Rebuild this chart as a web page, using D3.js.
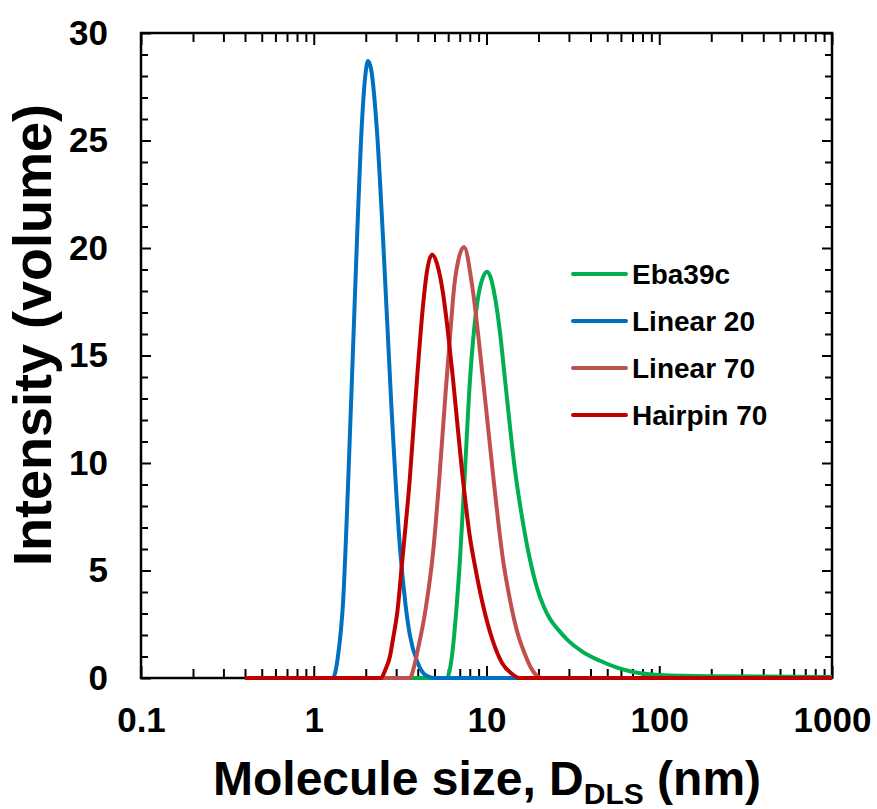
<!DOCTYPE html>
<html>
<head>
<meta charset="utf-8">
<script src="https://cdn.jsdelivr.net/npm/d3@7"></script>
<style>
  body { margin: 0; background: #fff; }
  text { font-family: "Liberation Sans", Arial, sans-serif; font-weight: bold; }
</style>
</head>
<body>
<div id="vis"></div>
<script>
// datos (tamaño en nm, intensidad en volumen)
const eba39cSize = [0.4, 5.9, 6.1, 6.35, 6.65, 7.02, 7.5, 8.03, 8.5, 8.94, 9.5, 10.07, 10.6, 11.2, 12.0, 12.79, 14.6, 16.2, 17.86, 19.6, 21.5, 23.3, 26, 29.2, 36.2, 45.4, 57, 70.5, 100, 200, 1000];
const eba39cInt  = [0, 0, 0.3, 1.2, 2.9, 5.5, 9.6, 13.9, 16.3, 17.7, 18.6, 18.9, 18.6, 17.7, 16.0, 13.9, 9.7, 7.3, 5.5, 4.2, 3.3, 2.75, 2.25, 1.8, 1.2, 0.8, 0.48, 0.28, 0.14, 0.08, 0.05];

const linear20Size = [0.4, 1.29, 1.38, 1.48, 1.58, 1.70, 1.78, 1.90, 2.0, 2.06, 2.15, 2.32, 2.52, 2.8, 3.16, 3.4, 3.6, 4.0, 4.5, 5.0, 1000];
const linear20Int  = [0, 0, 1.0, 3.6, 9.0, 16.0, 20.4, 25.8, 28.2, 28.7, 28.3, 25.5, 20.4, 13.0, 6.0, 3.4, 2.0, 0.7, 0.1, 0, 0];

const linear70Size = [0.4, 3.61, 3.8, 4.0, 4.4, 4.9, 5.3, 5.8, 6.15, 6.5, 6.9, 7.41, 8.24, 9.54, 11, 12.46, 13.7, 15, 16.7, 18, 19.6, 21, 1000];
const linear70Int  = [0, 0, 0.5, 1.3, 3.0, 5.8, 9.0, 13.3, 15.9, 18.2, 19.5, 20.05, 18.3, 13.9, 9.2, 5.5, 3.6, 2.2, 1.1, 0.5, 0.1, 0, 0];

const hairpin70Size = [0.4, 2.45, 2.6, 2.76, 2.87, 3.05, 3.24, 3.6, 3.96, 4.3, 4.52, 4.84, 5.2, 5.6, 6.0, 6.4, 7.2, 8.0, 8.58, 9.6, 10.9, 12.3, 14, 15.6, 1000];
const hairpin70Int  = [0, 0, 0.4, 1.0, 1.77, 3.1, 5.3, 9.3, 13.9, 17.4, 18.9, 19.7, 19.2, 17.9, 16.0, 13.9, 9.7, 6.6, 5.2, 3.3, 1.7, 0.7, 0.2, 0, 0];

const seriesNames = ["Eba39c", "Linear 20", "Linear 70", "Hairpin 70"];
const seriesColors = ["#00B050", "#0070C0", "#C0504D", "#C00000"];

const xMajor = [0.1, 1, 10, 100, 1000];
const yMajor = [0, 5, 10, 15, 20, 25, 30];

const WIDTH = 877;
const HEIGHT = 809;
const MARGIN = { top: 33, bottom: 131, left: 141, right: 45 };

const SVG = d3.select("#vis").append("svg")
    .attr("width", WIDTH)
    .attr("height", HEIGHT);

const xScale = d3.scaleLog()
    .domain([0.1, 1000])
    .range([MARGIN.left, WIDTH - MARGIN.right]);

const yScale = d3.scaleLinear()
    .domain([0, 30])
    .range([HEIGHT - MARGIN.bottom, MARGIN.top]);

// ticks menores
const xMinor = [];
for (let dec = 0.1; dec < 1000; dec *= 10) {
    for (let k = 2; k <= 9; k++) xMinor.push(+(dec * k).toPrecision(3));
}
const yMinor = d3.range(0, 31).filter(v => v % 5 !== 0);

const fmtX = d => d === 0.1 ? "0.1" : d3.format("d")(d);

function estiloEje(g) {
    g.select(".domain").remove();
    g.selectAll("line").attr("stroke", "#000").attr("stroke-width", 2);
    g.selectAll("text").attr("fill", "#000").attr("font-size", 35);
}

const y0 = yScale(0);
const x1 = xScale(1000);

SVG.append("g").attr("transform", `translate(0, ${y0})`)
    .call(d3.axisBottom(xScale).tickValues(xMinor).tickSize(-9).tickFormat(""))
    .call(estiloEje);
SVG.append("g").attr("transform", `translate(0, ${y0})`)
    .call(d3.axisBottom(xScale).tickValues(xMajor).tickSize(-12).tickPadding(29).tickFormat(fmtX))
    .call(estiloEje);
SVG.append("g").attr("transform", `translate(0, ${MARGIN.top})`)
    .call(d3.axisTop(xScale).tickValues(xMinor).tickSize(-9).tickFormat(""))
    .call(estiloEje);
SVG.append("g").attr("transform", `translate(0, ${MARGIN.top})`)
    .call(d3.axisTop(xScale).tickValues(xMajor).tickSize(-12).tickFormat(""))
    .call(estiloEje);

SVG.append("g").attr("transform", `translate(${MARGIN.left}, 0)`)
    .call(d3.axisLeft(yScale).tickValues(yMinor).tickSize(-7).tickFormat(""))
    .call(estiloEje);
SVG.append("g").attr("transform", `translate(${MARGIN.left}, 0)`)
    .call(d3.axisLeft(yScale).tickValues(yMajor).tickSize(-10).tickPadding(33))
    .call(estiloEje);
SVG.append("g").attr("transform", `translate(${x1}, 0)`)
    .call(d3.axisRight(yScale).tickValues(yMinor).tickSize(-7).tickFormat(""))
    .call(estiloEje);
SVG.append("g").attr("transform", `translate(${x1}, 0)`)
    .call(d3.axisRight(yScale).tickValues(yMajor).tickSize(-10).tickFormat(""))
    .call(estiloEje);

// marco
SVG.append("rect")
    .attr("x", MARGIN.left)
    .attr("y", MARGIN.top)
    .attr("width", x1 - MARGIN.left)
    .attr("height", y0 - MARGIN.top)
    .attr("fill", "none")
    .attr("stroke", "#000")
    .attr("stroke-width", 2.5);

// curvas
const series = [
    { name: seriesNames[0], color: seriesColors[0], size: eba39cSize, val: eba39cInt },
    { name: seriesNames[1], color: seriesColors[1], size: linear20Size, val: linear20Int },
    { name: seriesNames[2], color: seriesColors[2], size: linear70Size, val: linear70Int },
    { name: seriesNames[3], color: seriesColors[3], size: hairpin70Size, val: hairpin70Int },
];

const line = d3.line()
    .x(d => xScale(d[0]))
    .y(d => yScale(d[1]))
    .curve(d3.curveMonotoneX);

SVG.append("g")
    .selectAll("path")
    .data(series)
    .join("path")
    .attr("d", s => line(s.size.map((v, i) => [v, s.val[i]])))
    .attr("fill", "none")
    .attr("stroke", s => s.color)
    .attr("stroke-width", 4)
    .attr("stroke-linejoin", "round");

// leyenda
const legend = SVG.append("g").attr("transform", "translate(573, 274)");
legend.selectAll("g")
    .data(series)
    .join("g")
    .attr("transform", (d, i) => `translate(0, ${i * 47})`)
    .each(function(d) {
        d3.select(this).append("line")
            .attr("x1", 0).attr("x2", 53)
            .attr("stroke", d.color)
            .attr("stroke-width", 4)
            .attr("stroke-linecap", "round");
        d3.select(this).append("text")
            .attr("x", 59)
            .attr("dy", "0.35em")
            .attr("font-size", 28)
            .text(d.name);
    });

// titulos de ejes
const tituloX = SVG.append("text")
    .attr("x", 213)
    .attr("y", 795)
    .attr("font-size", 48);
tituloX.append("tspan").text("Molecule size, D");
tituloX.append("tspan").attr("font-size", 30).attr("dy", 9).text("DLS");
tituloX.append("tspan").attr("dy", -9).text(" (nm)");

SVG.append("text")
    .attr("transform", "translate(51, 335) rotate(-90)")
    .attr("text-anchor", "middle")
    .attr("font-size", 54)
    .text("Intensity (volume)");
</script>
</body>
</html>
